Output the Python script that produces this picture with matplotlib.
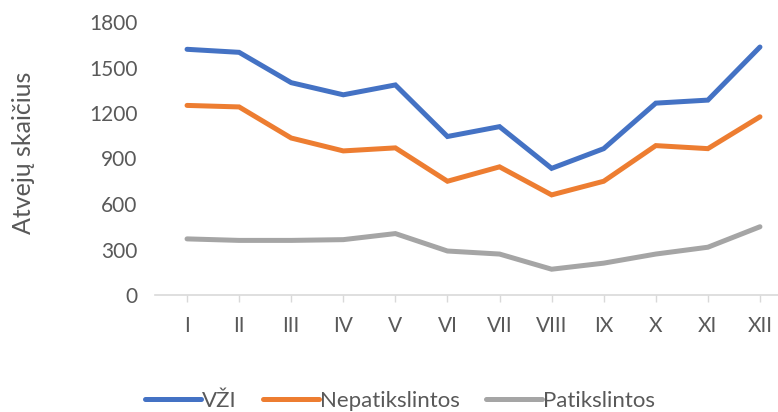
import matplotlib.pyplot as plt

months = ["I", "II", "III", "IV", "V", "VI", "VII", "VIII", "IX", "X", "XI", "XII"]
vzi = [1620, 1600, 1400, 1320, 1385, 1045, 1110, 835, 965, 1265, 1285, 1635]
nepatikslintos = [1250, 1240, 1035, 950, 970, 750, 845, 660, 750, 985, 965, 1175]
patikslintos = [370, 360, 360, 365, 405, 290, 270, 170, 210, 270, 315, 450]
yticks = [0, 300, 600, 900, 1200, 1500, 1800]

plt.rcParams["font.family"] = ["Lato", "DejaVu Sans"]
txt = "#595959"

fig = plt.figure(figsize=(7.78, 4.12), dpi=100)
ax = fig.add_axes([161 / 778, 1 - 295 / 412, 625 / 778, 273 / 412])

x = range(len(months))
ax.plot(x, vzi, color="#4472C4", lw=3.6, label="VŽI", solid_capstyle="round", solid_joinstyle="miter")
ax.plot(x, nepatikslintos, color="#ED7D31", lw=3.6, label="Nepatikslintos", solid_capstyle="round", solid_joinstyle="miter")
ax.plot(x, patikslintos, color="#A5A5A5", lw=3.6, label="Patikslintos", solid_capstyle="round", solid_joinstyle="miter")

ax.set_xlim(-0.5, 11.5)
ax.set_ylim(0, 1800)
ax.set_yticks(yticks)
ax.set_xticks(list(x))
ax.set_xticklabels(months)

for s in ["top", "right", "left"]:
    ax.spines[s].set_visible(False)
ax.spines["bottom"].set_color("#D9D9D9")
ax.spines["bottom"].set_linewidth(1.2)
ax.spines["bottom"].set_bounds(-0.62, 11.5)

ax.tick_params(axis="y", length=0, labelsize=15, labelcolor=txt, pad=17)
ax.tick_params(axis="x", length=5, color="#D9D9D9", width=1, labelsize=15, labelcolor=txt, pad=10)

fig.text(24 / 778, 1 - 153 / 412, "Atvejų skaičius", rotation=90, fontsize=18, color=txt,
         ha="center", va="center")

leg = fig.legend(loc="center", bbox_to_anchor=(400 / 778, 1 - 401 / 412), ncol=3, frameon=False,
                 fontsize=16, handlelength=2.5, handletextpad=0.05, columnspacing=1.2)
for t in leg.get_texts():
    t.set_color(txt)

fig.savefig("out.png", dpi=100)
